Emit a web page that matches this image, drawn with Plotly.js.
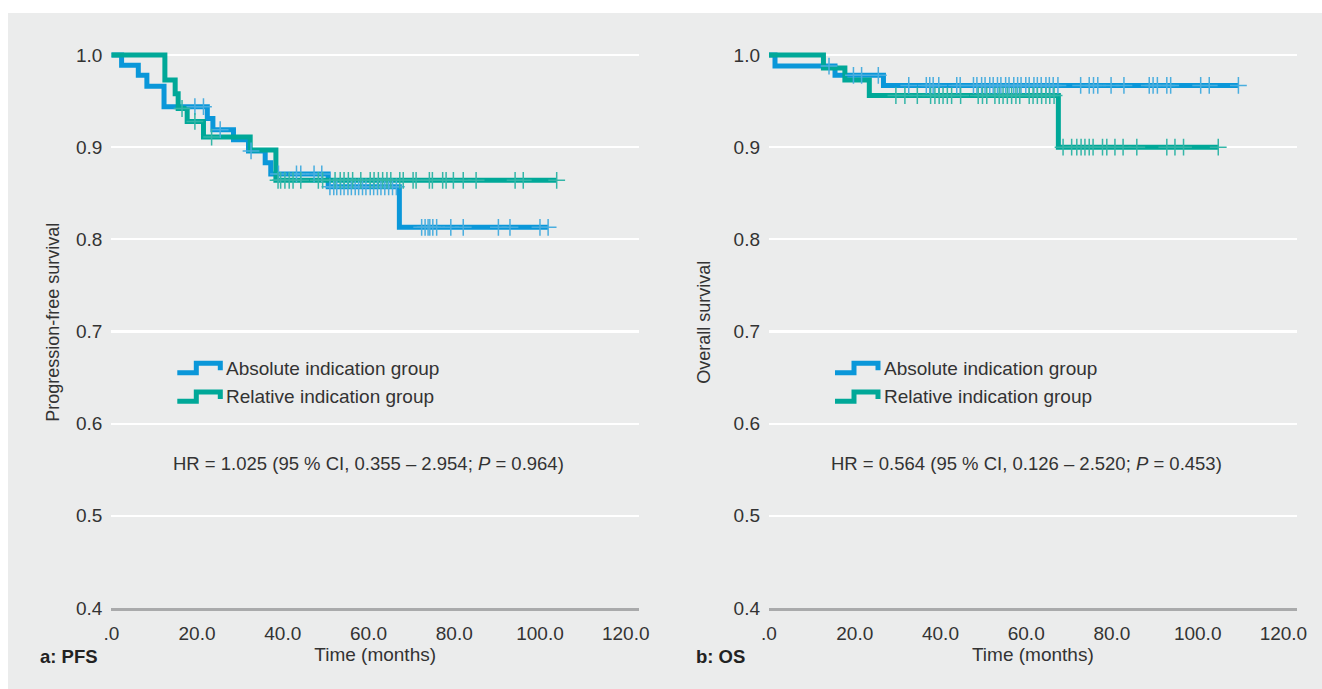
<!DOCTYPE html>
<html>
<head>
<meta charset="utf-8">
<script src="https://cdn.plot.ly/plotly-3.0.1.min.js"></script>
<style>html,body{margin:0;padding:0;background:#fff;}#chart{width:1322px;height:689px;}</style>
</head>
<body>
<div id="chart"></div>
<script>
// ---------- data ----------
const groupNames = ['Absolute indication group', 'Relative indication group'];
const xTickVals = [0, 20, 40, 60, 80, 100, 120];
const xTickText = ['.0', '20.0', '40.0', '60.0', '80.0', '100.0', '120.0'];
const yTickVals = [0.4, 0.5, 0.6, 0.7, 0.8, 0.9, 1.0];
const yTickText = ['0.4', '0.5', '0.6', '0.7', '0.8', '0.9', '1.0'];

// Panel a: PFS
const pfsAbsTime = [2.4, 6.3, 8.3, 12.3, 22.4, 23.7, 28.5, 32.0, 35.9, 37.2, 50.6, 67.2];
const pfsAbsSurv = [0.989, 0.978, 0.966, 0.944, 0.931, 0.919, 0.908, 0.896, 0.883, 0.871, 0.857, 0.813];
const pfsAbsEnd = 101.9;
const pfsAbsCensor = [19.5, 21.5, 25.4, 32.6, 39.0, 43.2, 44.2, 47.3, 49.1, 51.0, 51.9, 52.6, 53.5, 54.3, 55.2, 56.0, 56.9, 57.7, 58.6, 59.4, 60.4, 61.2, 62.1, 62.9, 63.8, 64.7, 65.6, 66.5, 72.4, 73.2, 73.9, 74.3, 75.0, 75.9, 79.2, 82.1, 90.3, 93.0, 100.0, 101.9];

const pfsRelTime = [12.5, 14.9, 15.6, 17.7, 21.5, 32.4, 38.4];
const pfsRelSurv = [0.973, 0.958, 0.942, 0.928, 0.911, 0.897, 0.864];
const pfsRelEnd = 103.9;
const pfsRelCensor = [16.5, 19.5, 23.4, 38.9, 39.5, 40.5, 41.5, 42.4, 44.2, 48.3, 49.3, 52.2, 53.4, 54.3, 55.3, 56.3, 58.2, 60.4, 61.3, 62.3, 63.3, 64.3, 65.2, 67.3, 68.1, 70.4, 71.1, 74.2, 74.9, 77.3, 78.1, 79.8, 82.1, 85.1, 94.2, 96.1, 103.9];

// Panel b: OS
const osAbsTime = [1.4, 15.4, 26.7];
const osAbsSurv = [0.988, 0.978, 0.967];
const osAbsEnd = 109.5;
const osAbsCensor = [14.0, 19.7, 21.6, 25.5, 32.6, 36.7, 37.5, 38.3, 39.6, 43.8, 44.6, 47.7, 48.5, 49.6, 50.4, 51.5, 52.3, 53.3, 54.1, 55.2, 56.0, 57.1, 58.0, 58.8, 59.9, 60.7, 61.8, 62.6, 63.5, 64.6, 65.4, 66.3, 67.4, 72.7, 74.7, 75.7, 76.7, 79.8, 82.8, 88.7, 89.6, 90.6, 92.8, 93.7, 100.7, 102.7, 109.5];

const osRelTime = [12.7, 17.7, 23.4, 67.5];
const osRelSurv = [0.986, 0.973, 0.956, 0.900];
const osRelEnd = 104.8;
const osRelCensor = [29.6, 31.7, 34.6, 37.7, 38.7, 39.7, 40.6, 41.6, 42.6, 44.7, 48.8, 49.8, 50.8, 52.7, 53.7, 54.6, 55.6, 56.6, 57.6, 58.5, 60.7, 61.6, 62.6, 63.6, 64.6, 65.5, 66.5, 68.6, 70.6, 71.8, 72.8, 73.7, 74.7, 75.6, 77.8, 78.8, 80.7, 82.6, 85.8, 92.8, 94.7, 96.7, 104.8];

const hrTexts = ['HR = 1.025 (95 % CI, 0.355 – 2.954; <i>P</i> = 0.964)',
                 'HR = 0.564 (95 % CI, 0.126 – 2.520; <i>P</i> = 0.453)'];
const panelLabels = ['a: PFS', 'b: OS'];
const yTitles = ['Progression-free survival', 'Overall survival'];
const xTitle = 'Time (months)';

// ---------- styling ----------
const W = 1322, H = 689;
const FONT = 'Liberation Sans, Arial, sans-serif';
const TXT = '#333333';
const colors = ['#0a97d9', '#00a898'];
const censorColors = ['#4aaedf', '#34b6a8'];
const px = x => x / W;
const py = y => 1 - y / H;

function stepAt(times, surv, t) {
  let s = 1;
  for (let i = 0; i < times.length; i++) if (times[i] <= t) s = surv[i];
  return s;
}
function curve(times, surv, end, name, gi, xa, ya) {
  return {
    type: 'scatter', mode: 'lines', name: name, xaxis: xa, yaxis: ya,
    x: [0].concat(times, [end]),
    y: [1].concat(surv, [surv[surv.length - 1]]),
    line: {shape: 'hv', color: colors[gi], width: 5},
    showlegend: false, hoverinfo: 'x+y+name'
  };
}
function censors(times, surv, cens, name, gi, xa, ya) {
  return {
    type: 'scatter', mode: 'markers', name: name + ' (censored)', xaxis: xa, yaxis: ya,
    x: cens, y: cens.map(t => stepAt(times, surv, t)),
    marker: {symbol: 'cross-thin', size: 12, color: censorColors[gi], line: {color: censorColors[gi], width: 1.5}},
    showlegend: false, cliponaxis: false
  };
}

const traces = [
  curve(pfsAbsTime, pfsAbsSurv, pfsAbsEnd, groupNames[0], 0, 'x', 'y'),
  curve(pfsRelTime, pfsRelSurv, pfsRelEnd, groupNames[1], 1, 'x', 'y'),
  censors(pfsAbsTime, pfsAbsSurv, pfsAbsCensor, groupNames[0], 0, 'x', 'y'),
  censors(pfsRelTime, pfsRelSurv, pfsRelCensor, groupNames[1], 1, 'x', 'y'),
  curve(osAbsTime, osAbsSurv, osAbsEnd, groupNames[0], 0, 'x2', 'y2'),
  curve(osRelTime, osRelSurv, osRelEnd, groupNames[1], 1, 'x2', 'y2'),
  censors(osAbsTime, osAbsSurv, osAbsCensor, groupNames[0], 0, 'x2', 'y2'),
  censors(osRelTime, osRelSurv, osRelCensor, groupNames[1], 1, 'x2', 'y2')
];

const yDom = [py(608), py(36.6)];
const xDomA = [px(111.3), px(639)];
const xDomB = [px(769), px(1296.7)];

function xaxis(dom, anchor) {
  return {
    domain: dom, anchor: anchor, range: [0, 123.1], fixedrange: true,
    tickvals: xTickVals, ticktext: xTickText, ticks: '', ticklabelstandoff: 7,
    showgrid: false, zeroline: false, showline: true, linecolor: '#a9aaab', linewidth: 2.5,
    tickfont: {family: FONT, size: 19, color: TXT},
    title: {text: xTitle, font: {family: FONT, size: 19, color: TXT}, standoff: 5}
  };
}
function yaxis(anchor, title, standoff) {
  return {
    domain: yDom, anchor: anchor, range: [0.4, 1.02], fixedrange: true,
    tickvals: yTickVals, ticktext: yTickText, ticks: '', ticklabelstandoff: 8,
    showgrid: true, gridcolor: '#ffffff', gridwidth: 2.2, zeroline: false, showline: false,
    tickfont: {family: FONT, size: 19, color: TXT},
    title: {text: title, font: {family: FONT, size: 18, color: TXT}, standoff: standoff}
  };
}

// legend glyphs (step symbol) + texts, placed relative to each panel
const shapes = [{type: 'rect', xref: 'paper', yref: 'paper', x0: px(8), x1: 1, y0: 0, y1: py(13),
                 fillcolor: '#ebecec', line: {width: 0}, layer: 'below'}];
const annotations = [];
const panelX0 = [111.3, 769];
panelX0.forEach((x0, p) => {
  groupNames.forEach((nm, gi) => {
    const yc = 368.3 + gi * 28.6;
    const a = x0 + 66, b = x0 + 85, c = x0 + 109;
    const yl = yc + 4.4, yt = yc - 5;
    shapes.push({type: 'path', xref: 'paper', yref: 'paper',
      path: `M${px(a)},${py(yl)} L${px(b)},${py(yl)} L${px(b)},${py(yt)} L${px(c)},${py(yt)} L${px(c)},${py(yc + 2)}`,
      line: {color: colors[gi], width: 5}});
    annotations.push({xref: 'paper', yref: 'paper', x: px(x0 + 113), y: py(yc), xanchor: 'left', yanchor: 'middle',
      text: nm, showarrow: false, font: {family: FONT, size: 19, color: TXT}});
  });
  annotations.push({xref: 'paper', yref: 'paper', x: px(x0 + 257.5), y: py(463), xanchor: 'center', yanchor: 'middle',
    text: hrTexts[p], showarrow: false, font: {family: FONT, size: 18.5, color: TXT}});
});
annotations.push({xref: 'paper', yref: 'paper', x: px(38), y: py(656), xanchor: 'left', yanchor: 'middle',
  text: '<b>' + panelLabels[0] + '</b>', showarrow: false, font: {family: FONT, size: 18.5, color: '#222'}});
annotations.push({xref: 'paper', yref: 'paper', x: px(694), y: py(656), xanchor: 'left', yanchor: 'middle',
  text: '<b>' + panelLabels[1] + '</b>', showarrow: false, font: {family: FONT, size: 18.5, color: '#222'}});

const layout = {
  width: W, height: H, autosize: false,
  margin: {l: 0, r: 0, t: 0, b: 0, pad: 0},
  paper_bgcolor: '#ffffff', plot_bgcolor: 'rgba(0,0,0,0)',
  showlegend: false,
  xaxis: xaxis(xDomA, 'y'), yaxis: yaxis('x', yTitles[0], 11),
  xaxis2: xaxis(xDomB, 'y2'), yaxis2: yaxis('x2', yTitles[1], 18),
  shapes: shapes, annotations: annotations,
  font: {family: FONT, color: TXT}
};

Plotly.newPlot('chart', traces, layout, {staticPlot: true, displayModeBar: false});
</script>
</body>
</html>
